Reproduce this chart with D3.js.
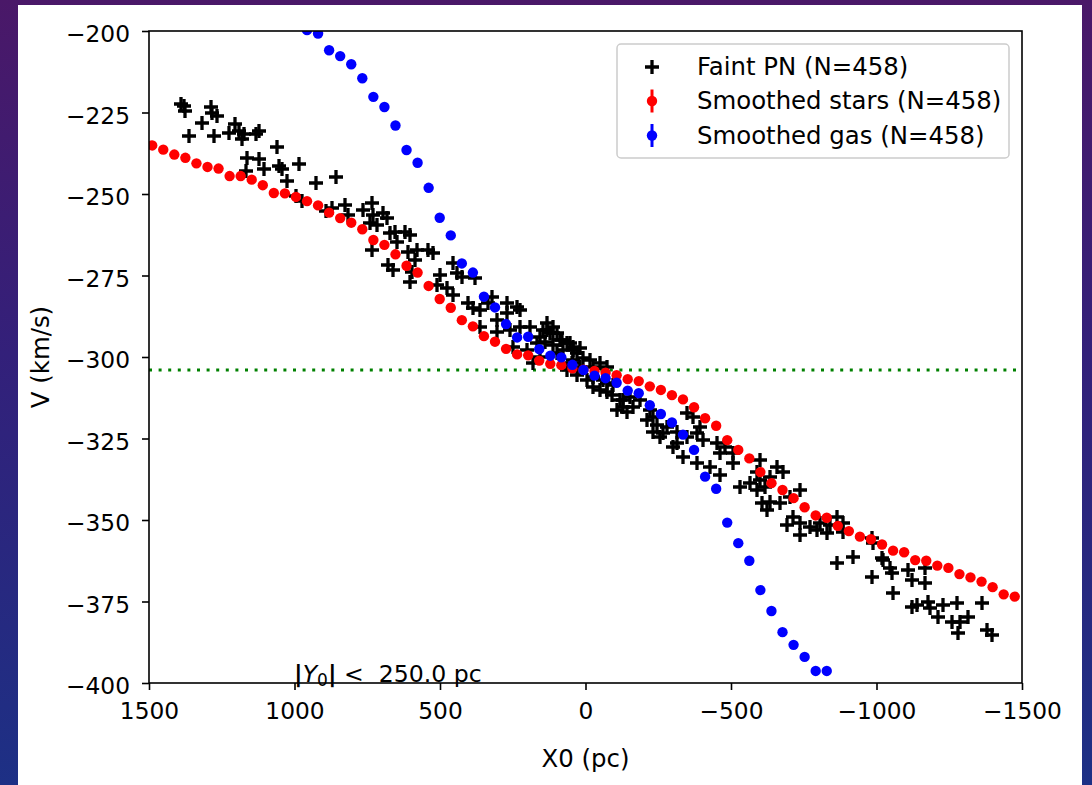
<!DOCTYPE html>
<html>
<head>
<meta charset="utf-8">
<script src="https://cdn.jsdelivr.net/npm/d3@7"></script>
<style>
  body { margin: 0; width: 1092px; height: 785px; overflow: hidden;
         background: linear-gradient(to bottom, #4a1868 0%, #33207a 45%, #1d3085 100%); }
  svg text { font-family: "DejaVu Sans", sans-serif; fill: #000; }
</style>
</head>
<body>
<div id="chart"></div>
<script>
// smoothing grid (pc), shared by stars and gas
var gridX = [1489, 1451, 1413, 1375, 1337, 1299, 1261, 1223, 1185, 1147, 1109, 1071, 1033, 995, 957,
    919, 881, 843, 805, 767, 729, 691, 653, 615, 577, 539, 501, 463, 425, 387, 349, 311, 273, 235,
    197, 159, 121, 83, 45, 7, -31, -69, -107, -145, -183, -221, -259, -297, -335, -373, -411, -449,
    -487, -525, -563, -601, -639, -677, -715, -753, -791, -829, -867, -905, -943, -981, -1019, -1057,
    -1095, -1133, -1171, -1209, -1247, -1285, -1323, -1361, -1399, -1437, -1475];

var starsV = [-235.1, -236.4, -237.9, -238.9, -240.6, -241.7, -242.2, -244.5, -244.5, -245.6, -247.3,
    -249.7, -249.8, -250.9, -252.2, -253.5, -255.7, -257.4, -258.8, -260.8, -264.1, -265.6, -268.5,
    -272.0, -274.1, -278.2, -282.2, -284.9, -288.7, -290.6, -293.6, -295.3, -297.5, -299.2, -299.5,
    -301.1, -302.1, -302.5, -303.5, -303.9, -304.3, -304.8, -305.6, -306.8, -307.4, -309.0, -310.1,
    -311.7, -313.0, -315.4, -318.8, -321.1, -325.5, -328.5, -331.1, -335.3, -338.7, -340.8, -343.3,
    -346.1, -348.6, -349.3, -351.8, -353.4, -355.1, -355.9, -357.5, -359.4, -359.9, -362.3, -362.5,
    -364.0, -364.7, -366.6, -367.6, -368.9, -370.6, -372.8, -373.5];

// gas only shown from grid index 14 to 61 (rest is off the axes)
var gasStart = 14;
var gasV = [-199.7, -200.8, -205.9, -207.7, -210.2, -214.5, -220.2, -223.3, -229.0, -236.5, -240.4,
    -248.1, -257.3, -262.7, -271.3, -274.1, -281.5, -284.8, -289.9, -294.0, -293.8, -297.6, -299.6,
    -300.1, -302.4, -304.0, -305.7, -306.5, -307.9, -310.3, -311.1, -314.8, -317.5, -320.1, -323.8,
    -328.5, -336.7, -340.4, -350.8, -357.1, -362.5, -371.5, -377.9, -384.4, -388.3, -392.0, -396.3, -396.3];

var pnX = [1391, 1380, 1376, 1288, 1282, 1317, 1265, 1363, 1277, 1225, 1204, 1191, 1174, 1179, 1122, 1133,
    1059, 1162, 1122, 1168, 1105, 1053, 1042, 1025, 985, 927, 858, 996, 973, 893, 870,
    826, 815, 764, 735, 729, 695, 683, 741, 718, 735, 672, 655, 620, 603, 649, 609, 580, 540, 523, 678,
    660, 586, 597, 603, 500, 454, 443, 425, 380, 511, 477, 454, 403, 386, 363, 322, 334, 305, 271, 271,
    236, 225, 363, 305, 260, 225, 191, 133, 156, 111, 88, 168, 111, 53, 42, 248, 202, 156, 99, 42, 179,
    145, 122, 139, 99, 82, 65, 42, 19, 30, 8, 47, 65, 30, -15, -27, -50, -73, -4, -27, -61, -50, -73,
    -96, -90, -119, -153, -130, -107, -142, -187, -222, -210, -245, -233, -267, -279, -313, -348, -370,
    -313, -348, -382, -393, -405, -451, -479, -462, -508, -382, -428, -508,
    -462, -600, -657, -680, -588, -531, -565, -588, -600, -634, -617, -606, -634, -668, -623, -737,
    -703, -691, -714, -737, -737, -772, -806, -795, -829, -840, -863, -886, -886, -863, -920, -1018,
    -983, -989, -1023, -1046, -1052, -983, -1109, -1167, -1121, -1167, -1058, -1121, -1138, -1178,
    -1184, -1212, -1230, -1276, -1258, -1287, -1315, -1362, -1281, -1379, -1396,
    134, 111, 76, 19, -27, -73, -130, -164, -233, -256, -302, -336];
var pnV = [-222.3, -223.0, -224.5, -223.3, -225.1, -228.1, -226.1, -232.2, -232.2, -231.2, -228.6, -230.7,
    -231.7, -233.2, -230.7, -231.7, -235.6, -238.9, -239.4, -242.9, -242.4, -241.4, -242.4, -246.0,
    -240.7, -246.5, -244.7, -250.6, -252.1, -255.2, -254.2,
    -253.4, -256.4, -254.9, -252.9, -256.4, -255.9, -257.5, -259.0, -259.5, -267.2, -262.1, -261.6,
    -261.6, -262.6, -264.6, -267.7, -267.2, -267.2, -268.2, -271.8, -273.3, -270.2, -273.8, -276.9,
    -274.8, -271.3, -274.3, -275.4, -275.9, -277.9, -278.9, -281.0, -283.5, -285.1, -285.6, -281.5,
    -283.5, -288.7, -283.5, -286.6, -284.6, -285.6, -290.7, -292.2, -291.7, -290.7, -290.7, -291.7,
    -293.8, -292.7, -294.8, -295.8, -296.3, -295.8, -297.9, -296.8, -297.9, -299.9, -298.9, -300.9, -301.9,
    -291.7, -292.7, -295.3, -292.7, -294.8, -295.8, -296.8, -297.3, -298.9, -300.4, -301.9, -304.0,
    -305.5, -300.9, -303.0, -301.9, -303.0, -307.0, -309.1, -307.0, -310.1, -310.6, -308.6, -311.7,
    -313.2, -312.2, -315.2, -316.3, -316.8, -313.2, -316.3, -319.3, -320.9, -322.9, -323.4, -321.4,
    -322.9, -317.3, -318.3, -326.5, -324.4, -323.4, -321.4, -325.5, -326.5, -327.5, -329.5, -329.5,
    -332.6, -333.7, -332.6,
    -336.2, -331.6, -333.7, -335.2, -335.2, -339.8, -338.7, -340.8, -337.7, -336.7, -339.8, -344.9,
    -344.4, -344.9, -346.9, -340.8, -342.9, -351.5, -349.0, -351.0, -354.6, -352.1, -351.0, -353.1,
    -354.1, -351.5, -349.0, -351.0, -353.6, -363.3, -361.3, -361.7,
    -355.6, -357.1, -362.3, -364.8, -366.4, -367.4, -365.3, -364.8, -368.4, -369.4, -372.5, -376.6,
    -376.1, -375.1, -377.1, -379.7, -376.1, -375.6, -381.2, -381.2, -379.7, -375.6, -384.8, -383.7, -385.3,
    -289.7, -290.7, -297.9, -303.0, -306.0, -308.1, -313.2, -315.2, -318.3, -324.4, -327.5, -330.6];

var v0 = -304;
var yTicks = [-400, -375, -350, -325, -300, -275, -250, -225, -200];
var xTicks = [1500, 1000, 500, 0, -500, -1000, -1500];
var legendLabels = ["Faint PN (N=458)", "Smoothed stars (N=458)", "Smoothed gas (N=458)"];

var widthPage = 1092, heightPage = 785;
var plotBox = {left: 149, top: 31, right: 1022, bottom: 683};
var tickFont = "23.3px";
var labelFont = "24.4px";

var svg = d3.select("#chart").append("svg").attr("width", widthPage).attr("height", heightPage);
svg.append("rect").attr("x", 18).attr("y", 5).attr("width", 1064).attr("height", 780).attr("fill", "#fff");

var x = d3.scaleLinear().domain([1500, -1500]).range([plotBox.left, plotBox.right]);
var y = d3.scaleLinear().domain([-400, -200]).range([plotBox.bottom, plotBox.top]);

svg.append("clipPath").attr("id", "clip").append("rect")
    .attr("x", plotBox.left).attr("y", plotBox.top)
    .attr("width", plotBox.right - plotBox.left).attr("height", plotBox.bottom - plotBox.top);

var g = svg.append("g").attr("clip-path", "url(#clip)");

// horizontal reference line
g.append("line").attr("x1", plotBox.left).attr("x2", plotBox.right)
    .attr("y1", y(v0)).attr("y2", y(v0))
    .attr("stroke", "#008000").attr("stroke-width", 3).attr("stroke-dasharray", "3,6.6");

var crossPath = "M-7,0H7M0,-7V7";
var pn = pnX.map(function(d, i) { return {x: d, v: pnV[i]}; });
g.selectAll(".pn").data(pn).enter().append("path").attr("class", "pn")
    .attr("d", crossPath).attr("stroke", "#000").attr("stroke-width", 3.3).attr("fill", "none")
    .attr("transform", function(d) { return "translate(" + Math.round(x(d.x)) + "," + Math.round(y(d.v)) + ")"; });

g.selectAll(".star").data(starsV).enter().append("circle").attr("class", "star")
    .attr("cx", function(d, i) { return x(gridX[i]); }).attr("cy", function(d) { return y(d); })
    .attr("r", 5.2).attr("fill", "#ff0000");

g.selectAll(".gas").data(gasV).enter().append("circle").attr("class", "gas")
    .attr("cx", function(d, i) { return x(gridX[gasStart + i]); }).attr("cy", function(d) { return y(d); })
    .attr("r", 5.2).attr("fill", "#0000ff");

// axes
var xAxis = svg.append("g").attr("transform", "translate(0," + plotBox.bottom + ")")
    .call(d3.axisBottom(x).tickValues(xTicks).tickFormat(d3.format("d")).tickSize(7).tickPadding(12));
var yAxis = svg.append("g").attr("transform", "translate(" + plotBox.left + ",0)")
    .call(d3.axisLeft(y).tickValues(yTicks).tickFormat(d3.format("d")).tickSize(7).tickPadding(12));
[xAxis, yAxis].forEach(function(a) {
    a.select(".domain").remove();
    a.selectAll("line").attr("stroke", "#000").attr("stroke-width", 1.6);
    a.selectAll("text").attr("font-size", tickFont).attr("font-family", "DejaVu Sans");
});
yAxis.selectAll("text").attr("dy", "0.46em");

svg.append("rect").attr("x", plotBox.left).attr("y", plotBox.top)
    .attr("width", plotBox.right - plotBox.left).attr("height", plotBox.bottom - plotBox.top)
    .attr("fill", "none").attr("stroke", "#000").attr("stroke-width", 1.6);

// axis labels
svg.append("text").attr("x", (plotBox.left + plotBox.right) / 2).attr("y", 767)
    .attr("text-anchor", "middle").attr("font-size", labelFont).text("X0 (pc)");
svg.append("text").attr("transform", "translate(49," + ((plotBox.top + plotBox.bottom) / 2) + ") rotate(-90)")
    .attr("text-anchor", "middle").attr("font-size", labelFont).text("V (km/s)");

// annotation |Y0| < 250.0 pc
var ann = svg.append("text").attr("x", 294).attr("y", 682).attr("font-size", "23.6px")
    .style("white-space", "pre");
ann.append("tspan").attr("font-weight", "bold").text("|");
ann.append("tspan").attr("font-style", "italic").text("Y");
ann.append("tspan").attr("font-size", "17px").attr("dy", 4).text("0");
ann.append("tspan").attr("dy", -4).attr("font-weight", "bold").text("|");
ann.append("tspan").text(" <  250.0 pc");

// legend
var leg = svg.append("g");
leg.append("rect").attr("x", 617).attr("y", 44).attr("width", 392).attr("height", 114).attr("rx", 4)
    .attr("fill", "#fff").attr("fill-opacity", 0.8).attr("stroke", "#cccccc").attr("stroke-width", 1.5);
var legColors = ["#000", "#ff0000", "#0000ff"];
legendLabels.forEach(function(label, i) {
    var cy = 66.5 + i * 34.5;
    if (i === 0) {
        leg.append("path").attr("d", crossPath).attr("stroke", "#000").attr("stroke-width", 3.3)
            .attr("transform", "translate(652," + Math.round(cy) + ")");
    } else {
        leg.append("line").attr("x1", 652).attr("x2", 652).attr("y1", cy - 11.5).attr("y2", cy + 11.5)
            .attr("stroke", legColors[i]).attr("stroke-width", 3);
        leg.append("circle").attr("cx", 652).attr("cy", cy).attr("r", 5.2).attr("fill", legColors[i]);
    }
    leg.append("text").attr("x", 697).attr("y", cy + 8).attr("font-size", labelFont).text(label);
});
</script>
</body>
</html>
